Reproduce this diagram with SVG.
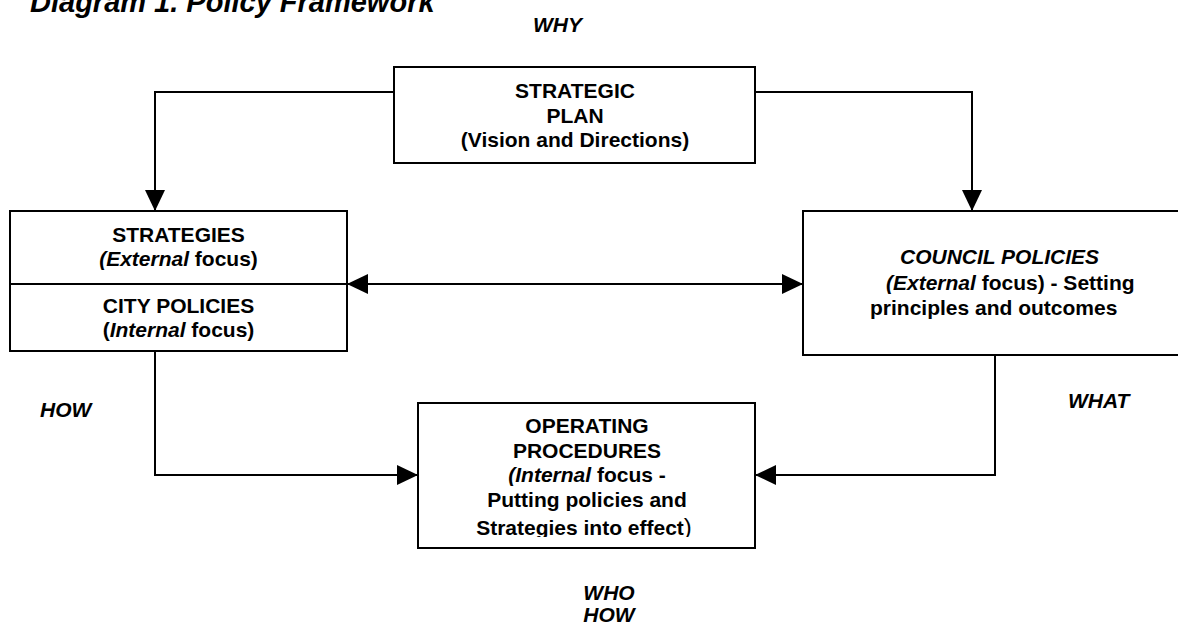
<svg xmlns="http://www.w3.org/2000/svg" width="1178" height="627" viewBox="0 0 1178 627">
<style>
text{font-family:"Liberation Sans",Arial,sans-serif;font-weight:bold;font-size:21px;fill:#000}
.c{text-anchor:middle}
.i{font-style:italic}
.t{font-size:29px;font-style:italic}
.box{fill:#fff;stroke:#000;stroke-width:2}
.conn{fill:none;stroke:#000;stroke-width:2}
</style>
<defs>
<marker id="ah" markerUnits="userSpaceOnUse" markerWidth="21" markerHeight="20" refX="21" refY="10" orient="auto-start-reverse" viewBox="0 0 21 20">
<path d="M0,0 L21,10 L0,20 Z" fill="#000"/>
</marker>
<clipPath id="opclip"><rect x="418" y="403" width="337" height="134"/></clipPath>
</defs>
<rect width="1178" height="627" fill="#fff"/>
<text id="title" class="t" x="30" y="12">Diagram 1. Policy Framework</text>
<text class="i" x="533" y="32">WHY</text>
<text class="i" x="40" y="417">HOW</text>
<text class="i" x="1068" y="408">WHAT</text>
<text class="i c" x="609" y="600">WHO</text>
<text class="i c" x="609" y="622">HOW</text>
<g id="connectors">
<path class="conn" d="M394,92 H155 V211" marker-end="url(#ah)"/>
<path class="conn" d="M755,92 H972 V211" marker-end="url(#ah)"/>
<path class="conn" d="M347,284 H803" marker-start="url(#ah)" marker-end="url(#ah)"/>
<path class="conn" d="M155,351 V475 H418" marker-end="url(#ah)"/>
<path class="conn" d="M995,355 V475 H755" marker-end="url(#ah)"/>
</g>
<g id="strategic-plan">
<rect class="box" x="394" y="67" width="361" height="96"/>
<text class="c" x="575" y="98">STRATEGIC</text>
<text class="c" x="575" y="123">PLAN</text>
<text class="c" x="575" y="147">(Vision and Directions)</text>
</g>
<g id="strategies">
<rect class="box" x="10" y="211" width="337" height="140"/>
<line class="conn" x1="10" y1="284" x2="347" y2="284"/>
<text class="c" x="178.5" y="242">STRATEGIES</text>
<text class="c" x="178.5" y="266"><tspan class="i">(External</tspan> focus)</text>
<text class="c" x="178.5" y="313">CITY POLICIES</text>
<text class="c" x="178.5" y="337">(<tspan class="i">Internal</tspan> focus)</text>
</g>
<g id="council-policies">
<rect class="box" x="803" y="211" width="380" height="144"/>
<text class="i" x="900" y="264">COUNCIL POLICIES</text>
<text x="886" y="290"><tspan class="i">(External</tspan> focus) - Setting</text>
<text x="870" y="315">principles and outcomes</text>
</g>
<g id="operating-procedures">
<rect class="box" x="418" y="403" width="337" height="145"/>
<text class="c" x="587" y="433">OPERATING</text>
<text class="c" x="587" y="458">PROCEDURES</text>
<text class="c" x="587" y="482"><tspan class="i">(Internal</tspan> focus -</text>
<text class="c" x="587" y="507">Putting policies and</text>
<text class="c" x="584" y="535" clip-path="url(#opclip)">Strategies into effect<tspan font-weight="normal" font-size="24">)</tspan></text>
</g>
</svg>
